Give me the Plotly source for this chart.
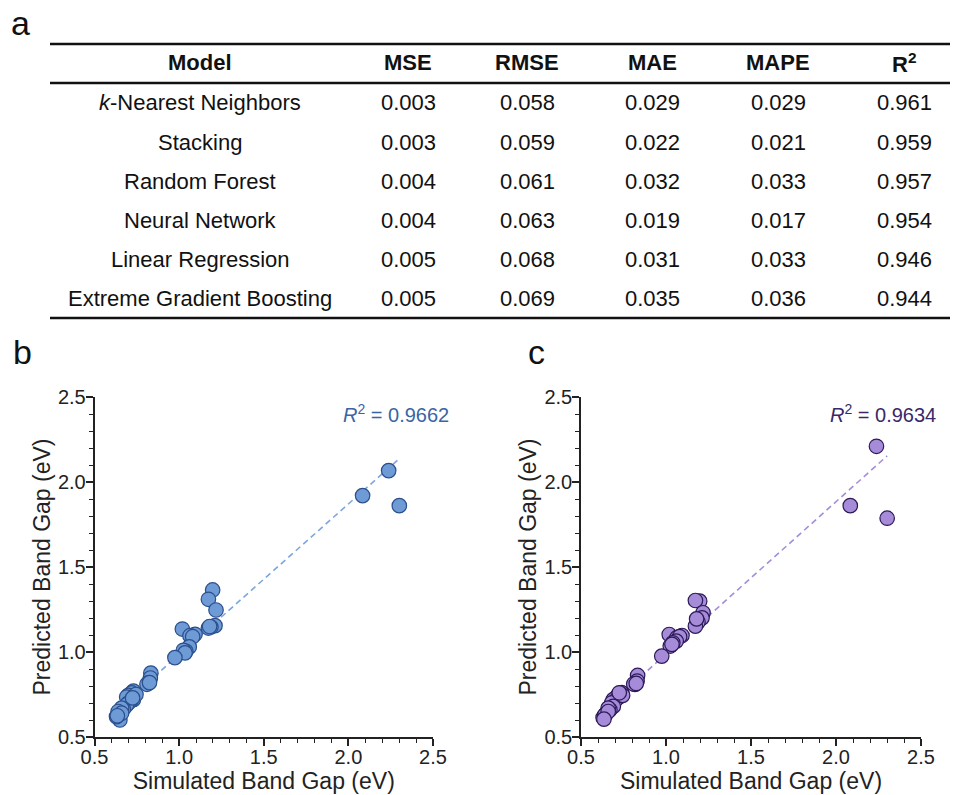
import plotly.graph_objects as go

W, H = 958, 795
OFF = 8  # page body margin offset

# ---------------- Table data ----------------
models = ["<i>k</i>-Nearest Neighbors", "Stacking", "Random Forest", "Neural Network",
          "Linear Regression", "Extreme Gradient Boosting"]
mse = ["0.003", "0.003", "0.004", "0.004", "0.005", "0.005"]
rmse = ["0.058", "0.059", "0.061", "0.063", "0.068", "0.069"]
mae = ["0.029", "0.022", "0.032", "0.019", "0.031", "0.035"]
mape = ["0.029", "0.021", "0.033", "0.017", "0.033", "0.036"]
r2 = ["0.961", "0.959", "0.957", "0.954", "0.946", "0.944"]
headers = ["Model", "MSE", "RMSE", "MAE", "MAPE", "R<sup>2</sup>"]

# ---------------- Scatter data ----------------
simulated = [2.238, 2.084, 2.301, 1.198, 1.173, 1.218, 1.212, 1.188, 1.173, 1.180,
             1.019, 1.094, 1.064, 1.080, 1.060, 1.040, 1.025, 1.035, 0.975, 0.833,
             0.830, 0.818, 0.810, 0.825, 0.739, 0.730, 0.720, 0.710, 0.700, 0.730,
             0.715, 0.690, 0.700, 0.680, 0.690, 0.670, 0.660, 0.650, 0.640, 0.630,
             0.640, 0.660, 0.745, 0.725, 0.635]
pred_b = [2.067, 1.920, 1.861, 1.365, 1.310, 1.247, 1.155, 1.147, 1.141, 1.150,
          1.135, 1.104, 1.096, 1.090, 1.030, 1.004, 1.010, 0.995, 0.967, 0.876,
          0.847, 0.818, 0.810, 0.820, 0.759, 0.770, 0.760, 0.740, 0.745, 0.720,
          0.715, 0.735, 0.700, 0.678, 0.690, 0.665, 0.670, 0.600, 0.630, 0.620,
          0.650, 0.640, 0.750, 0.730, 0.625]
pred_c = [2.210, 1.861, 1.787, 1.299, 1.303, 1.231, 1.201, 1.176, 1.152, 1.195,
          1.103, 1.097, 1.084, 1.090, 1.064, 1.054, 1.035, 1.045, 0.976, 0.862,
          0.829, 0.809, 0.812, 0.815, 0.761, 0.755, 0.748, 0.735, 0.725, 0.740,
          0.730, 0.720, 0.712, 0.700, 0.680, 0.660, 0.670, 0.640, 0.625, 0.615,
          0.630, 0.650, 0.745, 0.760, 0.605]
fit_b = (0.886, 0.0988)   # slope, intercept
fit_c = (0.896, 0.092)
r2_b = "0.9662"
r2_c = "0.9634"

FONT = "Liberation Sans, Arial, Helvetica, sans-serif"

def px(x):
    return (x - OFF) / W

def py(y):
    return 1 - (y - OFF) / H

fig = go.Figure()

panels = [
    dict(pred=pred_b, fit=fit_b, r2=r2_b, xa="x", ya="y", fill="#6e9ad6", edge="#2a4f8c",
         linec="#7ea6de", txt="#3a65a5"),
    dict(pred=pred_c, fit=fit_c, r2=r2_c, xa="x2", ya="y2", fill="#a68bd9", edge="#2c1a58",
         linec="#a58ddd", txt="#3a2868"),
]

xmin, xmax = min(simulated), max(simulated)
for p in panels:
    s, b = p["fit"]
    fig.add_trace(go.Scatter(x=[xmin, xmax], y=[s * xmin + b, s * xmax + b], mode="lines",
                             line=dict(color=p["linec"], width=1.6, dash="6px,4px"),
                             xaxis=p["xa"], yaxis=p["ya"], showlegend=False, hoverinfo="skip"))
    fig.add_trace(go.Scatter(x=simulated, y=p["pred"], mode="markers",
                             marker=dict(size=14.5, color=p["fill"],
                                         line=dict(color=p["edge"], width=1.2)),
                             xaxis=p["xa"], yaxis=p["ya"], showlegend=False, cliponaxis=False))

axis_common = dict(range=[0.5, 2.5], dtick=0.5, tick0=0.5, tickformat=".1f", ticks="outside",
                   ticklen=7, tickwidth=1.5, tickcolor="#222", showline=True, linecolor="#222",
                   linewidth=1.5, showgrid=False, zeroline=False, automargin=False,
                   tickfont=dict(family=FONT, size=20, color="#222"),
                   minor=dict(dtick=0.1, tick0=0.5, ticks="outside", ticklen=4, tickwidth=1.2,
                              tickcolor="#222", showgrid=False))

xdom_b = [px(94.5), px(433)]
xdom_c = [px(581), px(921)]
ydom = [py(737), py(397)]

tfont = dict(family=FONT, size=23, color="#222")
fig.update_layout(
    width=W, height=H, margin=dict(l=0, r=0, t=0, b=0, autoexpand=False),
    paper_bgcolor="white", plot_bgcolor="white",
    font=dict(family=FONT, color="#111"),
    xaxis=dict(domain=xdom_b, anchor="y", **axis_common, ticklabelstandoff=-6,
               title=dict(text="Simulated Band Gap (eV)", font=tfont, standoff=3)),
    yaxis=dict(domain=ydom, anchor="x", **axis_common, ticklabelstandoff=-4,
               title=dict(text="Predicted Band Gap (eV)", font=tfont, standoff=1)),
    xaxis2=dict(domain=xdom_c, anchor="y2", **axis_common, ticklabelstandoff=-6,
                title=dict(text="Simulated Band Gap (eV)", font=tfont, standoff=3)),
    yaxis2=dict(domain=ydom, anchor="x2", **axis_common, ticklabelstandoff=-4,
                title=dict(text="Predicted Band Gap (eV)", font=tfont, standoff=1)),
)

ann = []
# R^2 labels
ann.append(dict(text=f"<i>R</i><sup>2</sup> = {r2_b}", x=px(451), y=py(413), xref="paper", yref="paper",
                xanchor="right", yanchor="middle", showarrow=False,
                font=dict(family=FONT, size=20, color=panels[0]["txt"])))
ann.append(dict(text=f"<i>R</i><sup>2</sup> = {r2_c}", x=px(938), y=py(413), xref="paper", yref="paper",
                xanchor="right", yanchor="middle", showarrow=False,
                font=dict(family=FONT, size=20, color=panels[1]["txt"])))
# panel letters
for letter, x, y in [("a", 20, 23), ("b", 22, 352), ("c", 536, 352)]:
    ann.append(dict(text=letter, x=px(x), y=py(y), xref="paper", yref="paper", xanchor="center",
                    yanchor="middle", showarrow=False, font=dict(family=FONT, size=34, color="#111")))

# table
col_x = [200, 408, 527, 652, 778, 904]
head_y = 63
row_y0, row_dy = 103, 39.2
for cx, h in zip(col_x, headers):
    ann.append(dict(text=f"<b>{h}</b>", x=px(cx), y=py(head_y), xref="paper", yref="paper",
                    xanchor="center", yanchor="middle", showarrow=False,
                    font=dict(family=FONT, size=22, color="#111")))
cols = [models, mse, rmse, mae, mape, r2]
for ci, (cx, col) in enumerate(zip(col_x, cols)):
    for ri, val in enumerate(col):
        ann.append(dict(text=val, x=px(cx), y=py(row_y0 + ri * row_dy), xref="paper", yref="paper",
                        xanchor="center", yanchor="middle", showarrow=False,
                        font=dict(family=FONT, size=22, color="#111")))

fig.update_layout(annotations=ann)

shapes = []
for yl in [44, 83, 318]:
    shapes.append(dict(type="line", xref="paper", yref="paper", x0=px(50), x1=px(958),
                       y0=py(yl), y1=py(yl), line=dict(color="#111", width=2.5)))
fig.update_layout(shapes=shapes)

fig.write_html("out.html")
